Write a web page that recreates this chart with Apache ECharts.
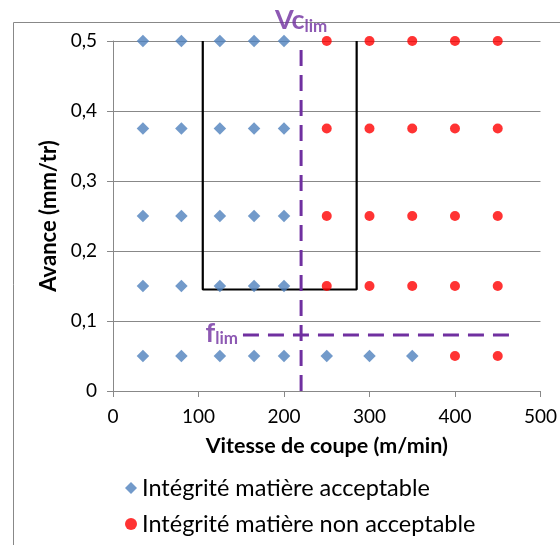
<!DOCTYPE html>
<html><head><meta charset="utf-8">
<script src="https://cdn.jsdelivr.net/npm/echarts@6/dist/echarts.min.js"></script>
<style>html,body{margin:0;padding:0;background:#fff}#c{width:560px;height:545px}</style>
</head><body><div id="c"></div>
<script>
// Data
const acceptable = [
  [35,0.5],[80,0.5],[125,0.5],[165,0.5],[200,0.5],
  [35,0.375],[80,0.375],[125,0.375],[165,0.375],[200,0.375],
  [35,0.25],[80,0.25],[125,0.25],[165,0.25],[200,0.25],
  [35,0.15],[80,0.15],[125,0.15],[165,0.15],[200,0.15],
  [35,0.05],[80,0.05],[125,0.05],[165,0.05],[200,0.05],[250,0.05],[300,0.05],[350,0.05]
];
const nonAcceptable = [
  [250,0.5],[300,0.5],[350,0.5],[400,0.5],[450,0.5],
  [250,0.375],[300,0.375],[350,0.375],[400,0.375],[450,0.375],
  [250,0.25],[300,0.25],[350,0.25],[400,0.25],[450,0.25],
  [250,0.15],[300,0.15],[350,0.15],[400,0.15],[450,0.15],
  [400,0.05],[450,0.05]
];
const zoneBox = [[105,0.5],[105,0.145],[285,0.145],[285,0.5]];
const vcLimLine = [[220,0],[220,0.5]];
const fLimLine = [[152,0.08],[466,0.08]];
const vcLimLabelPos = [220,0.5];
const fLimLabelPos = [152,0.08];
const seriesNames = ['Intégrité matière acceptable','Intégrité matière non acceptable'];
const xTitle = 'Vitesse de coupe (m/min)';
const yTitle = 'Avance (mm/tr)';

const FONT = 'Lato, "Open Sans", sans-serif';
const PURPLE = '#7030A0';
const chart = echarts.init(document.getElementById('c'));
chart.setOption({
  animation:false,
  textStyle:{fontFamily:FONT},
  graphic:[{type:'rect',left:11,top:20,shape:{width:600,height:600},style:{fill:'none',stroke:'#888',lineWidth:1},z:-10,silent:true}],
  grid:{left:113,right:18,top:41,bottom:154},
  xAxis:{type:'value',min:0,max:500,interval:100,
    name:xTitle,nameLocation:'middle',nameGap:44,
    nameTextStyle:{fontSize:21.5,fontWeight:'bold',color:'#000',fontFamily:FONT},
    axisLine:{show:true,lineStyle:{color:'#888'}},
    axisTick:{show:true,length:6,lineStyle:{color:'#888'}},
    axisLabel:{fontSize:19,color:'#000',margin:16,fontFamily:FONT},
    splitLine:{show:false}},
  yAxis:{type:'value',min:0,max:0.5,interval:0.1,
    name:yTitle,nameLocation:'middle',nameGap:52,
    nameTextStyle:{fontSize:22,fontWeight:'bold',color:'#000',fontFamily:FONT},
    axisLine:{show:true,lineStyle:{color:'#888'}},
    axisTick:{show:true,length:6,lineStyle:{color:'#888'}},
    axisLabel:{fontSize:19,color:'#000',margin:16,fontFamily:FONT,formatter:v=>String(+v.toFixed(1)).replace('.',',')},
    splitLine:{show:true,lineStyle:{color:'#888'}}},
  legend:{orient:'vertical',left:120,top:471,itemGap:12,itemWidth:12,itemHeight:12,
    textStyle:{fontSize:23.5,color:'#000',fontFamily:FONT},
    data:[{name:seriesNames[0],icon:'diamond'},{name:seriesNames[1],icon:'circle'}]},
  series:[
    {name:'box',type:'line',data:zoneBox,symbol:'none',lineStyle:{color:'#000',width:2.2},z:2,silent:true},
    {name:'vc',type:'line',data:vcLimLine,symbol:'none',lineStyle:{color:PURPLE,width:3,type:[16,9]},z:3,silent:true},
    {name:'f',type:'line',data:fLimLine,symbol:'none',lineStyle:{color:PURPLE,width:3,type:[16,9]},z:3,silent:true},
    {name:seriesNames[0],type:'scatter',data:acceptable,symbol:'diamond',symbolSize:12.5,itemStyle:{color:'#4F81BD'},z:5},
    {name:seriesNames[1],type:'scatter',data:nonAcceptable,symbol:'circle',symbolSize:10,itemStyle:{color:'#FF0000'},z:5},
    {name:'labels',type:'scatter',symbol:'circle',symbolSize:2,itemStyle:{color:'rgba(0,0,0,0)'},silent:true,z:6,clip:false,
      data:[
        {value:vcLimLabelPos,label:{show:true,position:'top',distance:5,formatter:'{a|Vc}{b|lim}'}},
        {value:fLimLabelPos,label:{show:true,position:'left',distance:4,offset:[0,-2],formatter:'{a|f}{b|lim}'}}
      ],
      label:{show:true,color:PURPLE,rich:{
        a:{fontSize:27,fontWeight:'bold',color:PURPLE,fontFamily:FONT},
        b:{fontSize:17,fontWeight:'bold',color:PURPLE,fontFamily:FONT,padding:[12,0,0,0]}}}}
  ]
});
</script></body></html>
